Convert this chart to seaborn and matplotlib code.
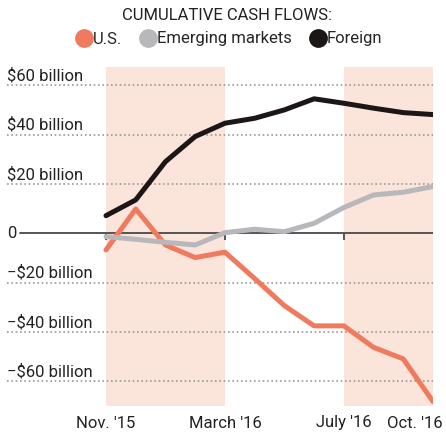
import matplotlib
matplotlib.use("Agg")
import matplotlib.pyplot as plt
import matplotlib.transforms as mtransforms
from matplotlib.lines import Line2D
import numpy as np
import pandas as pd
import seaborn as sns

# Monthly cumulative cash flows, $ billion (Nov. 2015 - Oct. 2016)
months = ["Nov. '15", "Dec. '15", "Jan. '16", "Feb. '16", "March '16", "April '16",
          "May '16", "June '16", "July '16", "Aug. '16", "Sept. '16", "Oct. '16"]
us = [-6.7, 9.9, -4.7, -9.8, -7.6, -18.3, -29.3, -37.5, -37.5, -46.2, -50.9, -68.2]
emerging = [-1.3, -2.4, -3.6, -4.7, 0.3, 1.7, 0.7, 4.1, 10.5, 15.6, 16.7, 19.0]
foreign = [7.2, 13.6, 29.1, 39.3, 44.7, 46.7, 50.1, 54.6, 52.8, 50.8, 49.0, 48.2]

series_names = ["U.S.", "Emerging markets", "Foreign"]
series_colors = ["#f07a5e", "#b8b8bc", "#1c1616"]

tick_months = ["Nov. '15", "March '16", "July '16", "Oct. '16"]
y_grid = [60, 40, 20, -20, -40, -60]
y_labels = ["$60 billion", "$40 billion", "$20 billion",
            "\u2212$20 billion", "\u2212$40 billion", "\u2212$60 billion"]
shaded_spans = [("Nov. '15", "March '16"), ("July '16", "Oct. '16")]

sns.set_theme(style="white")
plt.rcParams["font.family"] = ["Roboto", "DejaVu Sans"]
FS = 12

idx = {m: i for i, m in enumerate(months)}
df = pd.DataFrame({
    "month": list(range(len(months))) * 3,
    "value": us + emerging + foreign,
    "series": np.repeat(series_names, len(months)),
})

W, H = 446, 434
fig = plt.figure(figsize=(W / 100, H / 100), dpi=100)
ax_left, ax_right, ax_top, ax_bottom = 7, 433, 67, 406
ax = fig.add_axes([ax_left / W, (H - ax_bottom) / H,
                   (ax_right - ax_left) / W, (ax_bottom - ax_top) / H])

# x scale: month 0 at px 106, month 11 at px 433
px_per_month = (433 - 106) / 11
ax.set_xlim(-(106 - ax_left) / px_per_month, 11)
ax.set_ylim(-70, 67.5)

for a, b in shaded_spans:
    ax.axvspan(idx[a], idx[b], color="#fbe4da", lw=0, zorder=0)

for v in y_grid:
    ax.axhline(v, color="#9a9a9a", lw=1.2, ls=(0, (1, 1.6)), zorder=1)

# zero baseline with small ticks
zero_start = (20 - ax_left) / (ax_right - ax_left)
ax.axhline(0, xmin=zero_start, xmax=1, color="#555555", lw=1.4, zorder=2)
ax.vlines([idx[m] for m in tick_months[:3]], -2.6, 0, color="#555555", lw=1.4, zorder=2)

sns.lineplot(data=df, x="month", y="value", hue="series", hue_order=series_names,
             palette=series_colors, linewidth=3.6, legend=False, ax=ax, zorder=3)

ax.set_xlabel("")
ax.set_ylabel("")
for s in ax.spines.values():
    s.set_visible(False)
ax.set_yticks([])
ax.set_xticks([])

# month labels under the plot; the last one is nudged left to stay on the canvas
x_tf = mtransforms.blended_transform_factory(ax.transData, ax.transAxes)
for m in tick_months:
    dx = -18 / 100 if m == tick_months[-1] else 0
    tf = x_tf + mtransforms.ScaledTranslation(dx, -17 / 100, fig.dpi_scale_trans)
    ax.text(idx[m], 0, m, transform=tf, ha="center", va="center",
            fontsize=FS, color="#222222")

# y labels sit above their gridlines
lab_tf = mtransforms.blended_transform_factory(ax.transAxes, ax.transData)
lab_off = lab_tf + mtransforms.ScaledTranslation(0, 5 / 100, fig.dpi_scale_trans)
for v, t in zip(y_grid, y_labels):
    ax.text(0, v, t, transform=lab_off, ha="left", va="baseline", fontsize=FS, color="#222222")
ax.text(0, 0, "0", transform=lab_tf, ha="left", va="center", fontsize=FS, color="#222222")

fig.text(227 / W, 1 - 16 / H, "CUMULATIVE CASH FLOWS:", ha="center", va="center",
         fontsize=FS, color="#222222")
handles = [Line2D([], [], ls="", marker="o", markersize=12.5, markerfacecolor=c,
                  markeredgecolor=c) for c in series_colors]
fig.legend(handles, series_names, loc="center", bbox_to_anchor=(229 / W, 1 - 39 / H),
           ncol=3, frameon=False, fontsize=FS, handletextpad=0.0, columnspacing=1.1,
           handlelength=1.0, borderaxespad=0, borderpad=0)

fig.savefig("out.png", dpi=100, facecolor="white")
